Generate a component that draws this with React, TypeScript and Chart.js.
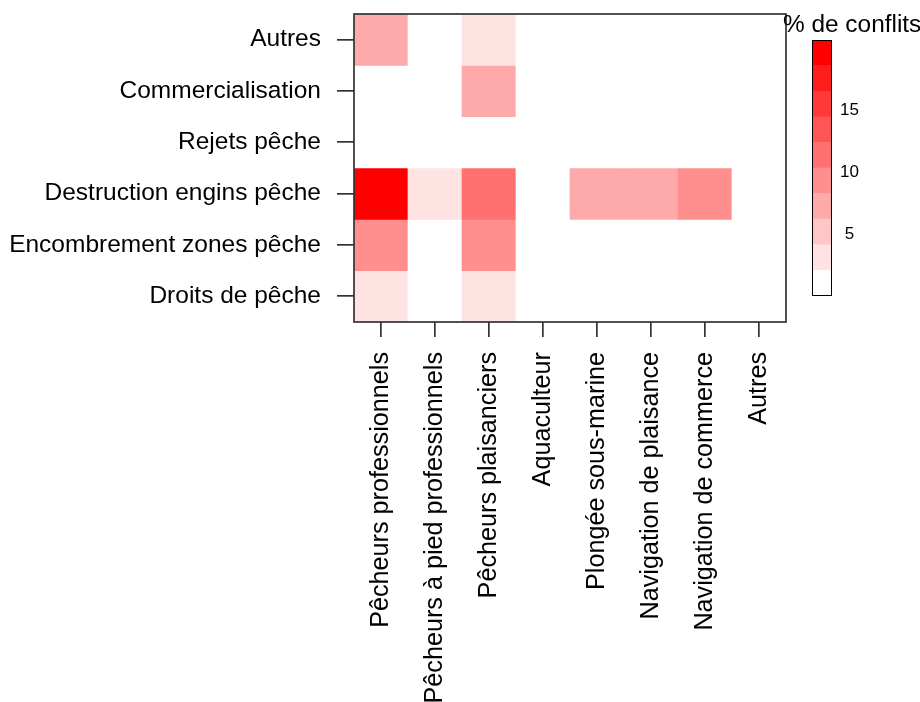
import React, { useEffect, useRef } from "react";
import { Chart, registerables } from "chart.js";

Chart.register(...registerables);

// Rows, top to bottom
const rowLabels = [
  "Autres",
  "Commercialisation",
  "Rejets pêche",
  "Destruction engins pêche",
  "Encombrement zones pêche",
  "Droits de pêche",
];
// Columns, left to right
const colLabels = [
  "Pêcheurs professionnels",
  "Pêcheurs à pied professionnels",
  "Pêcheurs plaisanciers",
  "Aquaculteur",
  "Plongée sous-marine",
  "Navigation de plaisance",
  "Navigation de commerce",
  "Autres",
];

// % de conflits per row (one value per column)
const rowAutres = [6.9, 0, 2.3, 0, 0, 0, 0, 0];
const rowCommercialisation = [0, 0, 6.9, 0, 0, 0, 0, 0];
const rowRejets = [0, 0, 0, 0, 0, 0, 0, 0];
const rowDestruction = [20.7, 2.3, 11.5, 0, 6.9, 6.9, 9.2, 0];
const rowEncombrement = [9.2, 0, 9.2, 0, 0, 0, 0, 0];
const rowDroits = [2.3, 0, 2.3, 0, 0, 0, 0, 0];

const legendTicks = [5, 10, 15];
const legendTitle = "% de conflits";
const zMin = 0;
const zMax = 20.7;
const palette = [
  "#FFFFFF",
  "#FFE3E3",
  "#FFC6C6",
  "#FFAAAA",
  "#FF8E8E",
  "#FF7171",
  "#FF5555",
  "#FF3939",
  "#FF1C1C",
  "#FF0000",
];

const FONT = "'Liberation Sans', Arial, sans-serif";

function colorFor(v: number): string {
  const k = Math.min(palette.length - 1, Math.max(0, Math.floor(((v - zMin) / (zMax - zMin)) * palette.length)));
  return palette[k];
}

export default function App() {
  const mainRef = useRef<HTMLCanvasElement | null>(null);
  const barRef = useRef<HTMLCanvasElement | null>(null);

  useEffect(() => {
    document.body.style.margin = "0";
    const rows = [rowAutres, rowCommercialisation, rowRejets, rowDestruction, rowEncombrement, rowDroits];
    const nRows = rows.length;

    const boxPlugin = {
      id: "box",
      afterDraw(chart: any) {
        const { ctx, chartArea } = chart;
        ctx.save();
        ctx.strokeStyle = "#333";
        ctx.lineWidth = 1.7;
        ctx.strokeRect(chartArea.left, chartArea.top, chartArea.right - chartArea.left, chartArea.bottom - chartArea.top);
        ctx.restore();
      },
    };

    const main = new Chart(mainRef.current as HTMLCanvasElement, {
      type: "bar",
      data: {
        labels: colLabels,
        datasets: rows.map((vals, i) => ({
          label: rowLabels[i],
          data: vals.map(() => [nRows - 1 - i, nRows - i]) as any,
          backgroundColor: vals.map((v) => colorFor(v)),
          borderWidth: 0,
          barPercentage: 1,
          categoryPercentage: 1,
          grouped: false,
        })),
      },
      options: {
        animation: false,
        responsive: false,
        layout: { padding: { left: 0, top: 14, right: 4, bottom: 0 } },
        plugins: { legend: { display: false }, tooltip: { enabled: false } },
        scales: {
          x: {
            type: "category",
            offset: true,
            grid: { offset: false, drawOnChartArea: false, drawTicks: true, tickLength: 15, color: "#333", lineWidth: 1.7 },
            border: { display: false },
            ticks: {
              autoSkip: false,
              minRotation: 90,
              maxRotation: 90,
              padding: 15,
              color: "#000",
              font: { family: FONT, size: 25.2 },
            },
            afterFit: (s: any) => {
              s.height = 380;
              s.paddingLeft = 0;
              s.paddingRight = 0;
              s.paddingTop = 0;
              s.paddingBottom = 0;
            },
          },
          y: {
            type: "linear",
            min: 0,
            max: nRows,
            grid: { drawOnChartArea: false, drawTicks: true, tickLength: 17, color: "#333", lineWidth: 1.7 },
            border: { display: false },
            afterBuildTicks: (s: any) => {
              s.ticks = rowLabels.map((_, i) => ({ value: i + 0.5 }));
            },
            ticks: {
              padding: 16,
              color: "#000",
              font: { family: FONT, size: 24.5 },
              callback: (v: any) => rowLabels[nRows - 1 - Math.round(Number(v) - 0.5)],
            },
            afterFit: (s: any) => {
              s.width = 354;
              s.paddingTop = 0;
              s.paddingBottom = 0;
              s.paddingLeft = 0;
              s.paddingRight = 0;
            },
          },
        },
      },
      plugins: [boxPlugin],
    });

    const binW = (zMax - zMin) / palette.length;
    const cbPlugin = {
      id: "cbFrame",
      afterDatasetsDraw(chart: any) {
        const { ctx, chartArea } = chart;
        ctx.save();
        ctx.strokeStyle = "#000";
        ctx.lineWidth = 1;
        ctx.strokeRect(chartArea.left + 0.5, chartArea.top + 0.5, chartArea.right - chartArea.left - 1, chartArea.bottom - chartArea.top - 1);
        ctx.fillStyle = "#000";
        ctx.font = `24.4px ${FONT}`;
        ctx.textAlign = "left";
        ctx.textBaseline = "alphabetic";
        ctx.fillText(legendTitle, chartArea.left - 29, 32);
        ctx.restore();
      },
    };

    const bar = new Chart(barRef.current as HTMLCanvasElement, {
      type: "bar",
      data: {
        labels: [""],
        datasets: palette.map((c) => ({
          data: [binW],
          backgroundColor: c,
          borderWidth: 0,
          barPercentage: 1,
          categoryPercentage: 1,
          stack: "cb",
        })),
      },
      options: {
        animation: false,
        responsive: false,
        layout: { padding: { left: 42, top: 40, bottom: 24, right: 0 } },
        plugins: { legend: { display: false }, tooltip: { enabled: false } },
        scales: {
          x: { display: false, stacked: true },
          y: {
            type: "linear",
            position: "right",
            stacked: true,
            min: zMin,
            max: zMax,
            grid: { display: false, drawTicks: false },
            border: { display: false },
            afterBuildTicks: (s: any) => {
              s.ticks = legendTicks.map((v) => ({ value: v }));
            },
            ticks: {
              padding: 8,
              crossAlign: "center",
              color: "#000",
              font: { family: FONT, size: 17 },
            },
            afterFit: (s: any) => {
              s.width = 88;
              s.paddingTop = 0;
              s.paddingBottom = 0;
            },
          },
        },
      },
      plugins: [cbPlugin],
    });

    return () => {
      main.destroy();
      bar.destroy();
    };
  }, []);

  return (
    <div style={{ position: "relative", width: 920, height: 702, overflow: "hidden", background: "#fff" }}>
      <canvas ref={mainRef} width={790} height={702} style={{ position: "absolute", left: 0, top: 0 }} />
      <canvas ref={barRef} width={150} height={320} style={{ position: "absolute", left: 770, top: 0 }} />
    </div>
  );
}
